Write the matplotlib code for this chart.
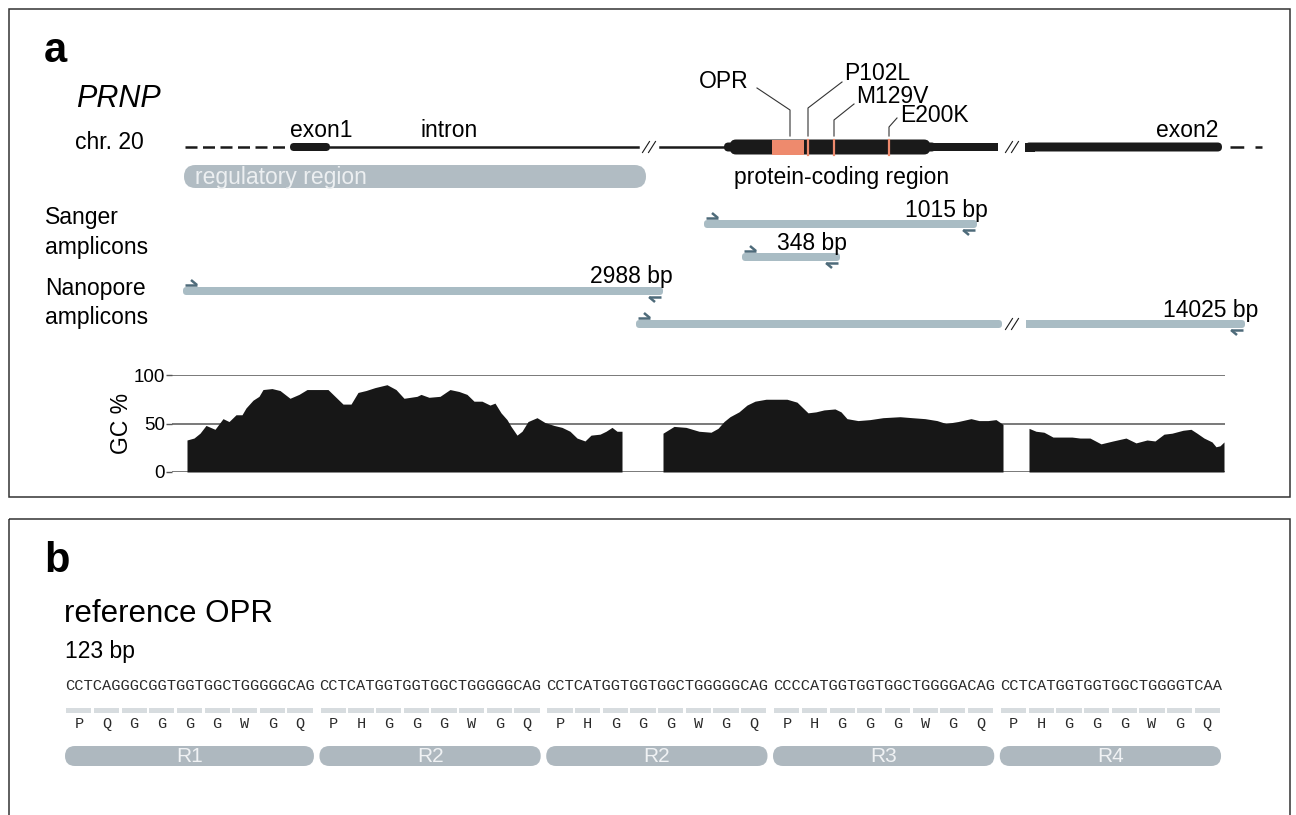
import matplotlib
matplotlib.use("Agg")
import matplotlib.pyplot as plt
from matplotlib.patches import FancyBboxPatch, Rectangle

plt.rcParams['font.family'] = ['Liberation Sans', 'DejaVu Sans']

W, H = 1296, 815
FS = 16.5  # label size used all over panel a

# ---------------- panel a data (diagram x units) ----------------
upstream = (185, 290)
exon1 = (290, 330)
intron = [(330, 638), (660, 728)]
cds = (728, 932)
utr3 = (932, 998)
exon2 = (1025, 1222)
downstream = (1230, 1262)
gene_breaks = [649, 1012]
opr = (772, 804)
mut_names = ['P102L', 'M129V', 'E200K']
mut_pos = [808, 834, 889]

amp_labels = ['1015 bp', '348 bp', '2988 bp', '14025 bp']
amp_start = [704, 742, 183, 636]
amp_end = [977, 840, 663, 1245]
amp_gap = [None, None, None, (998, 1026)]

# GC content (%) along the three shown stretches
gc1_pos = [187, 194, 200, 206, 215, 223, 229, 236, 242, 246, 253, 259, 263, 272, 280,
           290, 299, 307, 320, 328, 337, 343, 351, 358, 366, 375, 387, 396, 404, 417,
           421, 429, 440, 450, 459, 467, 474, 482, 490, 495, 501, 507, 511, 517, 522,
           528, 537, 545, 554, 562, 570, 577, 585, 591, 600, 606, 612, 617, 622]
gc1_val = [33, 35, 40, 48, 44, 55, 52, 59, 59, 66, 74, 78, 85, 86, 84,
           76, 80, 85, 85, 85, 76, 70, 70, 82, 84, 87, 90, 85, 76, 78,
           80, 77, 78, 85, 83, 80, 73, 73, 69, 71, 61, 54, 47, 38, 42,
           52, 56, 51, 48, 46, 42, 35, 32, 38, 39, 42, 46, 42, 42]
gc2_pos = [663, 674, 686, 699, 711, 718, 724, 730, 739, 747, 755, 766, 774, 787, 797,
           803, 808, 816, 824, 835, 841, 847, 858, 870, 883, 900, 912, 925, 937, 946,
           958, 971, 979, 988, 996, 1003]
gc2_val = [40, 47, 46, 42, 41, 45, 52, 57, 62, 69, 73, 75, 75, 75, 72,
           66, 61, 62, 64, 65, 62, 55, 53, 54, 56, 57, 56, 55, 53, 50,
           52, 55, 53, 53, 54, 49]
gc3_pos = [1029, 1036, 1044, 1053, 1063, 1072, 1080, 1090, 1101, 1113, 1126, 1136,
           1147, 1155, 1164, 1172, 1183, 1191, 1197, 1204, 1212, 1216, 1220, 1224]
gc3_val = [45, 42, 41, 36, 36, 36, 35, 35, 29, 32, 35, 30,
           33, 32, 39, 40, 43, 44, 40, 35, 31, 26, 27, 31]
gc_ticks = [0, 50, 100]

# ---------------- panel b data ----------------
seqs = ['CCTCAGGGCGGTGGTGGCTGGGGGCAG',
        'CCTCATGGTGGTGGCTGGGGGCAG',
        'CCTCATGGTGGTGGCTGGGGGCAG',
        'CCCCATGGTGGTGGCTGGGGACAG',
        'CCTCATGGTGGTGGCTGGGGTCAA']
aminos = ['PQGGGGWGQ', 'PHGGGWGQ', 'PHGGGWGQ', 'PHGGGWGQ', 'PHGGGWGQ']
repeats = ['R1', 'R2', 'R2', 'R3', 'R4']

# colours
BLACK = '#1a1a1a'
AMP = '#a9bcc4'
PILL = '#b1bcc3'
PRIMER = '#4e6b7a'
SALMON = '#ee8a6d'

fig = plt.figure(figsize=(W / 100, H / 100), dpi=100)
ax = fig.add_axes([0, 0, 1, 1])
ax.set_xlim(0, W)
ax.set_ylim(H, 0)
ax.axis('off')


def pill(x0, x1, yc, h, color, r=None, z=2):
    r = h / 2 if r is None else r
    ax.add_patch(FancyBboxPatch((x0, yc - h / 2), x1 - x0, h,
                                boxstyle=f"round,pad=0,rounding_size={r}",
                                fc=color, ec='none', zorder=z))


def break_mark(x, y):
    for dx in (-3, 3):
        ax.plot([x + dx - 3.5, x + dx + 3.5], [y + 5.5, y - 5.5], color=BLACK, lw=0.8, zorder=4)


def primer(tip, y, d):
    ax.plot([tip - d * 12, tip], [y, y], color=PRIMER, lw=1.8, solid_capstyle='butt', zorder=5)
    ax.plot([tip - d * 6, tip], [y - d * 5, y], color=PRIMER, lw=1.8, solid_capstyle='butt', zorder=5)


# panel frames
ax.add_patch(Rectangle((9, 9), 1281, 488, fill=False, ec='#333333', lw=1.1))
ax.add_patch(Rectangle((9, 519), 1281, 330, fill=False, ec='#333333', lw=1.1))

# ---------------- panel a ----------------
ax.text(44, 62, 'a', fontsize=30, fontweight='bold', va='baseline')
ax.text(76, 107, 'PRNP', fontsize=22, style='italic', va='baseline')
ax.text(75, 149, 'chr. 20', fontsize=FS, va='baseline')

yc = 147
ax.plot(upstream, [yc, yc], color=BLACK, lw=1.8, ls=(0, (4.8, 2.2)))
ax.plot(downstream, [yc, yc], color=BLACK, lw=1.8, ls=(0, (5.5, 4.5)))
pill(exon1[0], exon1[1], yc, 8, BLACK, z=3)
for a, b in intron:
    ax.plot([a, b], [yc, yc], color=BLACK, lw=1.8, zorder=2)
# coding region: capsule with small shoulders
pill(cds[0] - 4, cds[1] + 4, yc, 9, BLACK, r=4.5, z=3)
pill(cds[0] + 2, cds[1] - 2, yc, 15, BLACK, r=6, z=3)
ax.add_patch(Rectangle((opr[0], yc - 7.5), opr[1] - opr[0], 15, fc=SALMON, ec='none', zorder=4))
for p in mut_pos:
    ax.plot([p, p], [yc - 7.5, yc + 7.5], color=SALMON, lw=1.6, zorder=4)
ax.add_patch(Rectangle((utr3[0] - 5, yc - 3.8), utr3[1] - utr3[0] + 5, 7.6, fc=BLACK, ec='none', zorder=2))
pill(exon2[0], exon2[1], yc, 9, BLACK, z=2)
ax.add_patch(Rectangle((exon2[0], yc - 4.5), 10, 9, fc=BLACK, ec='none', zorder=2))
for bx in gene_breaks:
    break_mark(bx, yc)

ax.text(290, 137, 'exon1', fontsize=FS, va='baseline')
ax.text(421, 137, 'intron', fontsize=FS, va='baseline')
ax.text(1218, 137, 'exon2', fontsize=FS, va='baseline', ha='right')

# mutation / OPR callouts
callouts = [('OPR', (699, 88), [(757, 88), (790, 110), ((opr[0] + opr[1]) / 2 + 2, 136)]),
            (mut_names[0], (844, 80), [(842, 82), (mut_pos[0], 108), (mut_pos[0], 136)]),
            (mut_names[1], (856, 103), [(854, 104), (mut_pos[1], 120), (mut_pos[1], 136)]),
            (mut_names[2], (900, 122), [(897, 118), (mut_pos[2], 127), (mut_pos[2], 136)])]
for label, (tx, ty), pts in callouts:
    ax.text(tx, ty, label, fontsize=FS, va='baseline')
    ax.plot([p[0] for p in pts], [p[1] for p in pts], color='#333333', lw=0.8, zorder=3)

pill(184, 646, 176.5, 23, PILL)
ax.text(195, 184, 'regulatory region', fontsize=FS, va='baseline', color='#eceff1', zorder=3)
ax.text(734, 184, 'protein-coding region', fontsize=FS, va='baseline')

ax.text(45, 224, 'Sanger', fontsize=FS, va='baseline')
ax.text(45, 254, 'amplicons', fontsize=FS, va='baseline')
ax.text(45, 295, 'Nanopore', fontsize=FS, va='baseline')
ax.text(45, 324, 'amplicons', fontsize=FS, va='baseline')

amp_rows = [224, 257, 291, 324]
amp_text = [(988, 217, 'right'), (777, 250, 'left'), (673, 283, 'right'), (1258, 317, 'right')]
for lab, s, e, g, row, (tx, ty, ha) in zip(amp_labels, amp_start, amp_end, amp_gap, amp_rows, amp_text):
    if g is None:
        pill(s, e, row, 8, AMP, r=3.5)
    else:
        pill(s, g[0] + 4, row, 8, AMP, r=3.5)
        ax.add_patch(Rectangle((g[0] - 5, row - 4), 5, 8, fc=AMP, ec='none', zorder=2))
        ax.add_patch(Rectangle((g[1], row - 4), 6, 8, fc=AMP, ec='none', zorder=2))
        pill(g[1] + 2, e, row, 8, AMP, r=3.5)
        break_mark((g[0] + g[1]) / 2, row)
    primer(s + 14, row - 6, 1)
    primer(e - 14, row + 6, -1)
    ax.text(tx, ty, lab, fontsize=FS, va='baseline', ha=ha, zorder=4)

# GC track
gx = fig.add_axes([172 / W, (H - 472) / H, (1225 - 172) / W, 97 / H])
gx.patch.set_alpha(0)
gx.set_xlim(172, 1225)
gx.set_ylim(0, 100)
for t in gc_ticks:
    gx.axhline(t, color='#555555', lw=1.1, zorder=1)
for pos, val in [(gc1_pos, gc1_val), (gc2_pos, gc2_val), (gc3_pos, gc3_val)]:
    gx.fill_between(pos, 0, val, color='#171717', lw=0, zorder=2)
for sp in gx.spines.values():
    sp.set_visible(False)
gx.set_xticks([])
gx.set_yticks(gc_ticks)
gx.tick_params(axis='y', length=4, width=1, color='#555555', pad=1, labelsize=13.5)
gx.set_ylabel('GC %', fontsize=FS)
gx.yaxis.set_label_coords(-0.037, 0.5)

# ---------------- panel b ----------------
ax.text(44, 572, 'b', fontsize=30, fontweight='bold', va='baseline')
ax.text(64, 622, 'reference OPR', fontsize=22.5, va='baseline')
ax.text(65, 658, '123 bp', fontsize=FS, va='baseline')

cw = 9.22
x = 65
for seq, aa, rep in zip(seqs, aminos, repeats):
    ax.text(x, 690, seq, family='Liberation Mono', fontsize=11.06, va='baseline', color='#2a2a2a')
    for k, a in enumerate(aa):
        cx = x + 3 * k * cw
        ax.add_patch(Rectangle((cx + 1.2, 707.5), 3 * cw - 2.4, 5, fc='#d7dcdf', ec='none'))
        ax.text(cx + 1.5 * cw, 728, a, family='Liberation Mono', fontsize=11,
                ha='center', va='baseline', color='#2a2a2a')
    x1 = x + len(seq) * cw
    pill(x, x1, 756, 20, '#aeb8bf')
    ax.text((x + x1) / 2, 757, rep, fontsize=15, ha='center', va='center', color='#f0f2f4', zorder=3)
    x = x1 + 5.5

fig.savefig('out.png', dpi=100)
